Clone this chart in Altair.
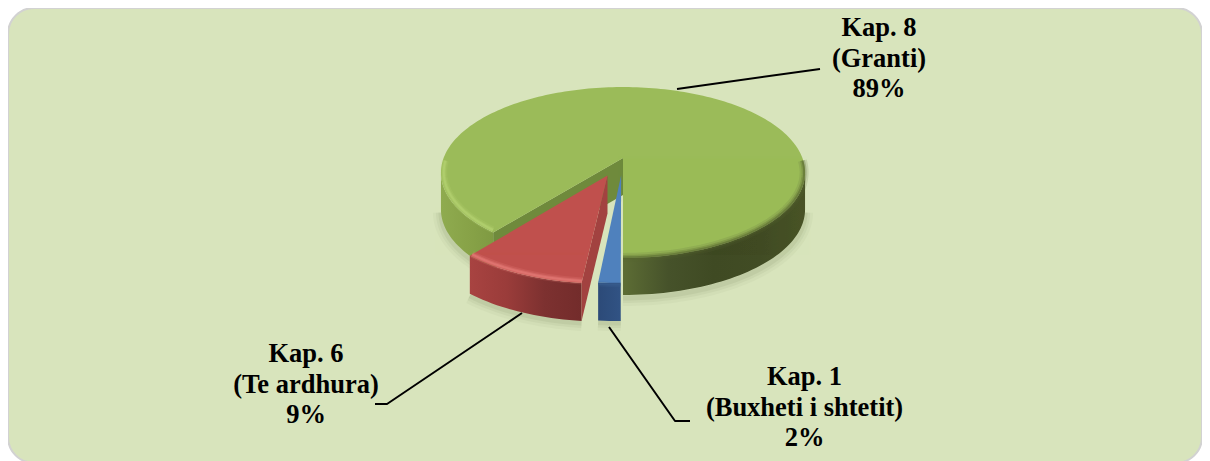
import numpy as np
import altair as alt

# ---- data
chapters = ["Kap. 1", "Kap. 6", "Kap. 8"]
names = ["(Buxheti i shtetit)", "(Te ardhura)", "(Granti)"]
shares = [1.6, 9.2, 89.2]
explode = [0.2, 0.22, 0.0]
start_deg = 180.0

# ---- layout of the perspective pie (image pixels)
CX, CY = 623.0, 158.0
RX, RY, K = 179.4, 83.0, 0.17
DEPTH = 37.0
OFF = 8.0
W, H = 1194, 455


def pt(phi, e=0.0, mid=0.0, r=1.0, dy=0.0):
    a, m = np.radians(phi), np.radians(mid)
    u = r * np.sin(a) + e * np.sin(m)
    v = -r * np.cos(a) - e * np.cos(m)
    d = 1 - K * v
    return [round(float(CX + RX * u / d - OFF), 2), round(float(CY + RY * v / d + dy - OFF), 2)]


def arc(a0, a1, e=0.0, mid=0.0, dy=0.0, r=1.0):
    n = max(3, int(abs(a1 - a0) / 1.5))
    return [pt(a, e, mid, r, dy) for a in np.linspace(a0, a1, n)]


def polygon(ring):
    ring = list(ring) + [ring[0]]
    return {"type": "Feature", "properties": {}, "geometry": {"type": "Polygon", "coordinates": [ring]}}


def line(points):
    return {"type": "Feature", "properties": {}, "geometry": {"type": "LineString", "coordinates": points}}


def grad(*stops):
    n = len(stops) - 1
    return alt.LinearGradient(gradient="linear", x1=0, x2=1, y1=0, y2=0,
                              stops=[alt.GradientStop(offset=i / n, color=c) for i, c in enumerate(stops)])


def shape(feature, fill):
    return alt.Chart(alt.Data(values=[feature])).mark_geoshape(fill=fill, strokeWidth=0).project(
        type="identity", scale=1, translate=[0, 0])


def stroke(feature, color, width, opacity=1.0):
    return alt.Chart(alt.Data(values=[feature])).mark_geoshape(
        filled=False, stroke=color, strokeWidth=width, opacity=opacity, strokeCap="butt", strokeJoin="round"
    ).project(type="identity", scale=1, translate=[0, 0])


# slice angles from the shares
edges = start_deg + np.cumsum([0] + [s * 3.6 for s in shares])
(b0, b1), (r0, r1), (g0, g1) = zip(edges[:-1], edges[1:])
bm, rm = (b0 + b1) / 2, (r0 + r1) / 2
eb, er = explode[0], explode[1]
# tangent points of the rim
RIGHT_T, LEFT_T = 99.8, 260.2

layers = []

# soft drop shadow under the solid
for w, o in [(16, 0.04), (10, 0.06), (5, 0.08)]:
    layers.append(stroke(line(arc(RIGHT_T, 180, dy=DEPTH + 3)), "#55603a", w, o))
    layers.append(stroke(line(arc(r0, r1, er, rm, dy=DEPTH + 3)), "#55603a", w, o))
    layers.append(stroke(line(arc(g0, LEFT_T, dy=DEPTH + 3)), "#55603a", w, o))
    layers.append(stroke(line(arc(b0, b1, eb, bm, dy=DEPTH + 3)), "#55603a", w, o))

# green solid
right_wall = arc(RIGHT_T, 180) + arc(180, RIGHT_T, dy=DEPTH)
left_wall = arc(g0, LEFT_T) + arc(LEFT_T, g0, dy=DEPTH)
layers.append(shape(polygon(right_wall), grad("#5d6d35", "#46522a", "#3f4a23", "#414c24", "#4a5528")))
layers.append(shape(polygon(left_wall), grad("#8fab4f", "#88a348", "#7f9a42")))
layers.append(shape(polygon([pt(0, r=0), pt(g0), pt(g0, dy=DEPTH), pt(0, r=0, dy=DEPTH)]), "#6f8a3c"))
layers.append(shape(polygon([pt(0, r=0)] + arc(g0, g1)), "#9bbb59"))
# soft rim bevels of the green top face
for w, o in [(9, 0.15), (5, 0.28), (2, 0.5)]:
    layers.append(stroke(line(arc(RIGHT_T - 8, 180, r=0.995)), "#56662f", w, o))
for w, o in [(7, 0.15), (4, 0.28), (2, 0.4)]:
    layers.append(stroke(line(arc(g0 + 1, LEFT_T + 8, r=0.985)), "#bcd978", w, o))
# blue solid
layers.append(shape(polygon(arc(b0, b1, eb, bm) + arc(b1, b0, eb, bm, dy=DEPTH + 1)), grad("#2c4a78", "#315384")))
layers.append(shape(polygon([pt(0, eb, bm, r=0)] + arc(b0, b1, eb, bm)), "#4f81bd"))
for w, o in [(5, 0.3), (2, 0.5)]:
    layers.append(stroke(line(arc(b0, b1, eb, bm, dy=1.5)), "#3a5f90", w, o))

# red solid
layers.append(shape(polygon(arc(r0, r1, er, rm) + arc(r1, r0, er, rm, dy=DEPTH + 1)), grad("#a84341", "#9a3c3a", "#7d3130", "#732c2b")))
layers.append(shape(polygon([pt(0, er, rm, r=0), pt(r0, er, rm), pt(r0, er, rm, dy=DEPTH + 1), pt(0, er, rm, r=0, dy=DEPTH + 1)]), "#a24240"))
layers.append(shape(polygon([pt(0, er, rm, r=0)] + arc(r0, r1, er, rm)), "#c0504d"))
for w, o in [(7, 0.2), (4, 0.35), (2, 0.5)]:
    layers.append(stroke(line(arc(r0, r1, er, rm, r=0.985)), "#e9807b", w, o))


# leader lines
def leader(points):
    pts = [[x - OFF, y - OFF] for x, y in points]
    return stroke(line(pts), "#000000", 2)


layers.append(leader([(677, 89), (820, 69)]))
layers.append(leader([(522, 313), (387, 404), (375, 404)]))
layers.append(leader([(609, 327), (675, 421), (690, 421)]))

# labels: first-line baseline
anchors = [(804.5, 385), (306, 362), (879, 36)]
for chap, name, share, (ax, ay) in zip(chapters, names, shares, anchors):
    label = f"{chap}\n{name}\n{round(share)}%"
    layers.append(
        alt.Chart(alt.Data(values=[{"label": label}])).mark_text(
            font="Liberation Serif", fontWeight="bold", fontSize=26.5, color="#000000",
            lineBreak="\n", lineHeight=30.5, align="center", baseline="alphabetic",
        ).encode(text="label:N", x=alt.value(ax - OFF), y=alt.value(ay - OFF))
    )

chart = alt.layer(*layers).properties(
    width=W, height=H, padding=0, autosize=alt.AutoSizeParams(type="none"), background="#ffffff",
).configure_view(fill="#d8e4bc", stroke="#d2d2d2", strokeWidth=2, cornerRadius=26)

chart.save("out.html", embed_options={"renderer": "svg", "actions": False})
